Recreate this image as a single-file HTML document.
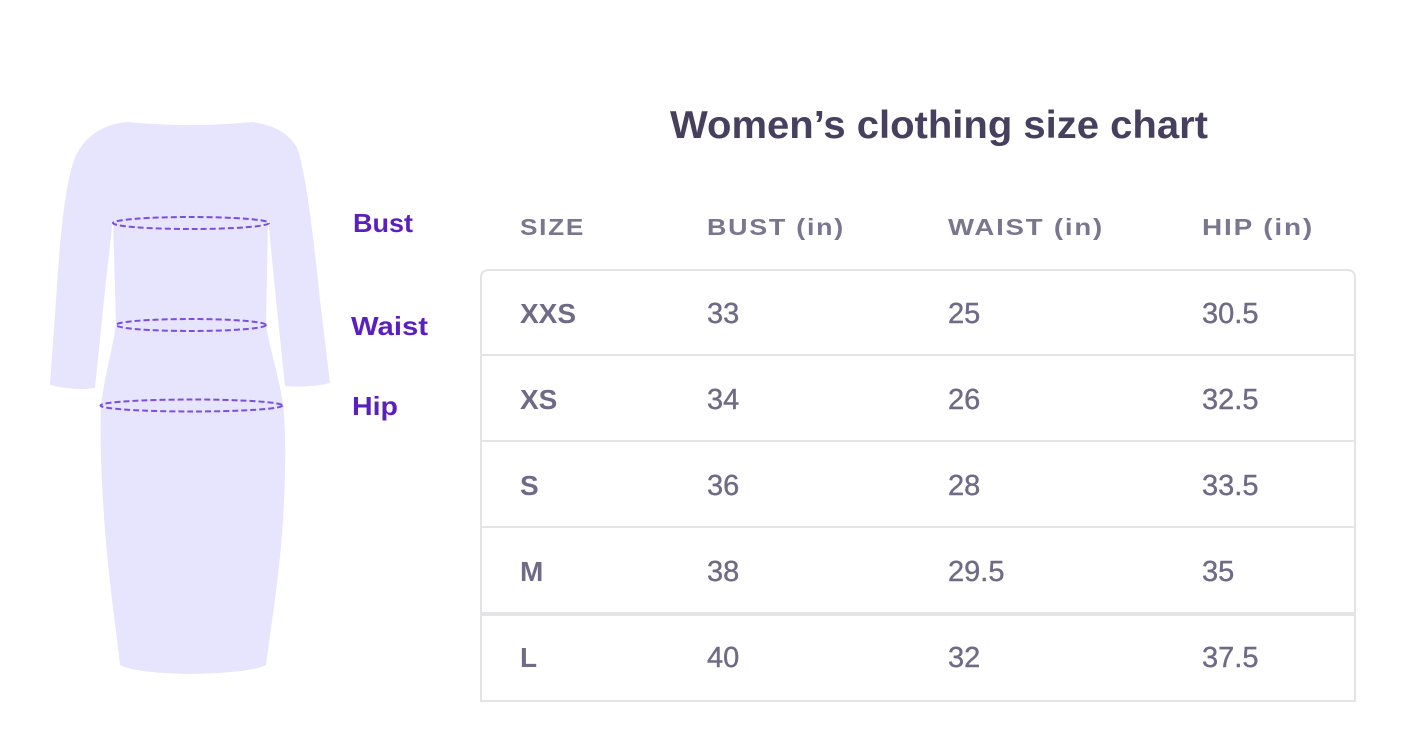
<!DOCTYPE html>
<html>
<head>
<meta charset="utf-8">
<style>
  html,body{margin:0;padding:0;background:#ffffff;}
  body{width:1406px;height:750px;overflow:hidden;}
  svg{display:block;}
</style>
</head>
<body>
<svg width="1406" height="750" viewBox="0 0 1406 750" xmlns="http://www.w3.org/2000/svg">
  <rect x="0" y="0" width="1406" height="750" fill="#ffffff"/>

  <!-- Dress -->
  <path fill="#e7e4fd" d="
    M 127,122
    Q 190,128 252,122
    C 270,124 290,132 298,150
    C 306,175 314,240 320,300
    L 330,383
    Q 310,388 285,386
    L 276,300
    L 268,218
    L 266,325
    C 270,350 280,380 283,405
    C 286,430 286,470 283,520
    C 280,570 272,620 266,665
    Q 250,673 190,674
    Q 135,673 120,665
    C 115,620 106,560 103,500
    C 101,470 100,430 101,405
    C 104,380 112,350 116,325
    L 113,218
    L 104,300
    L 95,388
    Q 75,391 50,385
    L 56,300
    C 60,240 64,190 74,160
    C 84,135 105,124 127,122 Z"/>

  <!-- Measurement ellipses -->
  <g fill="none" stroke="#7a4fe0" stroke-width="2" stroke-dasharray="6 3">
    <ellipse cx="191" cy="223" rx="78" ry="6"/>
    <ellipse cx="191" cy="325" rx="75" ry="6"/>
    <ellipse cx="191.5" cy="405.5" rx="91" ry="6"/>
  </g>

  <!-- Labels -->
  <g font-family="Liberation Sans, sans-serif" font-weight="bold" font-size="26" fill="#5a1fbf">
    <text x="353" y="232" textLength="60" lengthAdjust="spacingAndGlyphs">Bust</text>
    <text x="351" y="335" textLength="77" lengthAdjust="spacingAndGlyphs">Waist</text>
    <text x="352" y="415" textLength="46" lengthAdjust="spacingAndGlyphs">Hip</text>
  </g>

  <!-- Title -->
  <text x="670" y="138" font-family="Liberation Sans, sans-serif" font-weight="bold" font-size="39" fill="#46405e" textLength="538" lengthAdjust="spacingAndGlyphs">Women’s clothing size chart</text>

  <!-- Headers -->
  <g font-family="Liberation Sans, sans-serif" font-weight="bold" font-size="23" fill="#7a7690" letter-spacing="1.5">
    <text x="520" y="235" textLength="65" lengthAdjust="spacingAndGlyphs">SIZE</text>
    <text x="707" y="235" textLength="138" lengthAdjust="spacingAndGlyphs">BUST (in)</text>
    <text x="948" y="235" textLength="156" lengthAdjust="spacingAndGlyphs">WAIST (in)</text>
    <text x="1202" y="235" textLength="112" lengthAdjust="spacingAndGlyphs">HIP (in)</text>
  </g>

  <!-- Table -->
  <g fill="none" stroke="#e4e4e6" stroke-width="2">
    <path d="M 481,701 L 481,278 Q 481,270 489,270 L 1347,270 Q 1355,270 1355,278 L 1355,701 Z"/>
    <line x1="481" y1="355" x2="1355" y2="355"/>
    <line x1="481" y1="441" x2="1355" y2="441"/>
    <line x1="481" y1="527" x2="1355" y2="527"/>
  </g>
  <rect x="480" y="612" width="876" height="4" fill="#e4e4e6"/>

  <!-- Size column -->
  <g font-family="Liberation Sans, sans-serif" font-weight="bold" font-size="28" fill="#6f6b86">
    <text x="520" y="323">XXS</text>
    <text x="520" y="409">XS</text>
    <text x="520" y="495">S</text>
    <text x="520" y="581">M</text>
    <text x="520" y="667">L</text>
  </g>

  <!-- Values -->
  <g font-family="Liberation Sans, sans-serif" font-size="29" fill="#6f6b86" stroke="#6f6b86" stroke-width="0.4">
    <text x="707" y="323">33</text>
    <text x="707" y="409">34</text>
    <text x="707" y="495">36</text>
    <text x="707" y="581">38</text>
    <text x="707" y="667">40</text>

    <text x="948" y="323">25</text>
    <text x="948" y="409">26</text>
    <text x="948" y="495">28</text>
    <text x="948" y="581">29.5</text>
    <text x="948" y="667">32</text>

    <text x="1202" y="323">30.5</text>
    <text x="1202" y="409">32.5</text>
    <text x="1202" y="495">33.5</text>
    <text x="1202" y="581">35</text>
    <text x="1202" y="667">37.5</text>
  </g>
</svg>
</body>
</html>
